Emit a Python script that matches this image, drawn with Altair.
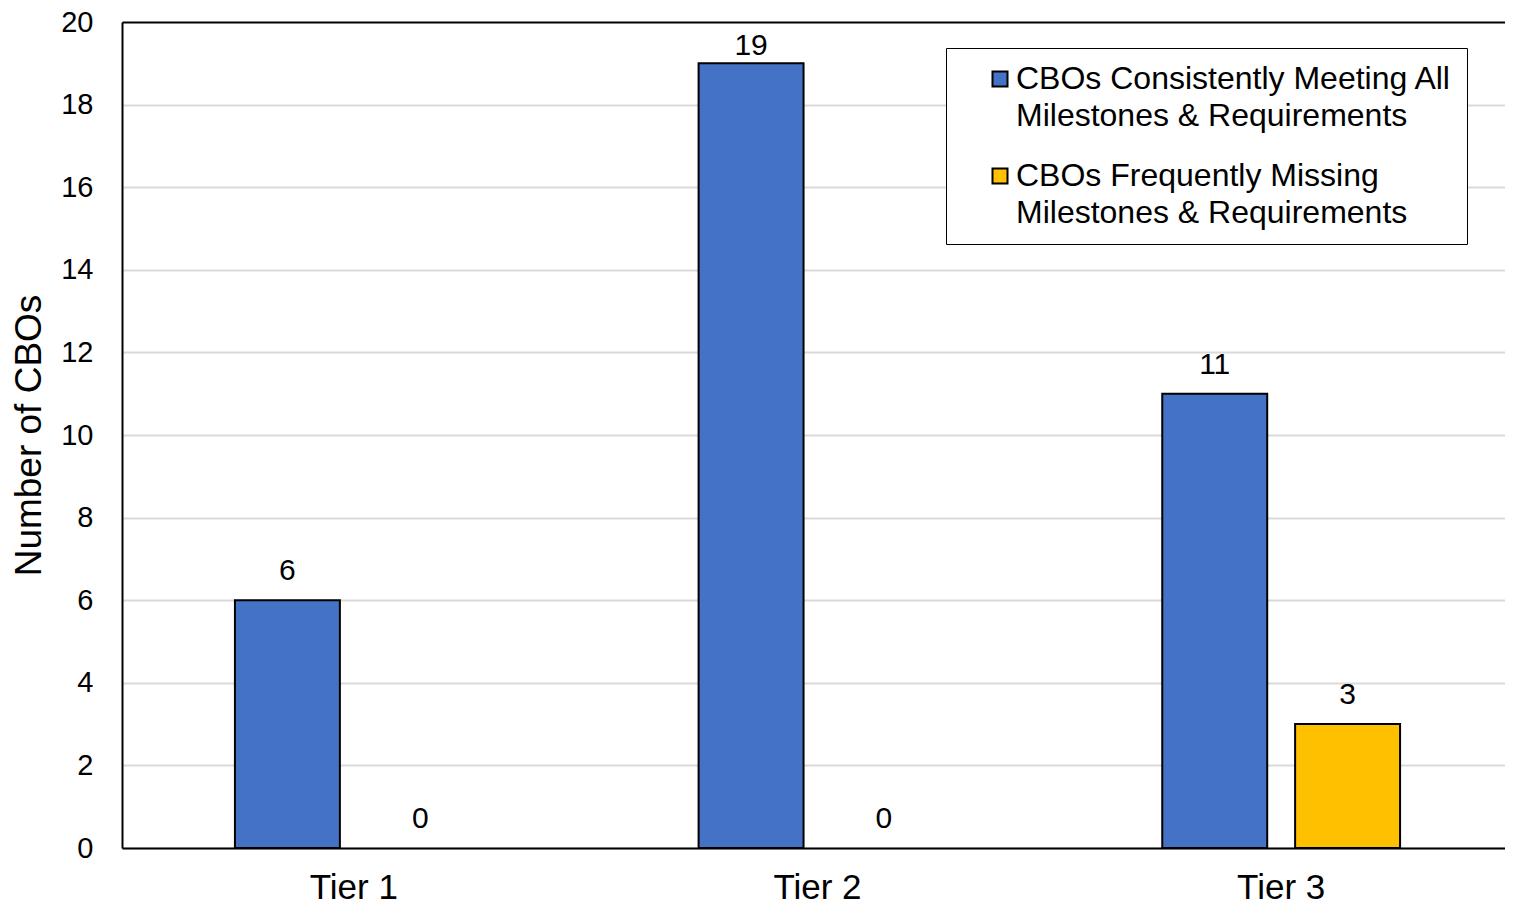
import altair as alt
import pandas as pd

tiers = ["Tier 1", "Tier 2", "Tier 3"]
series = [
    "CBOs Consistently Meeting All|Milestones & Requirements",
    "CBOs Frequently Missing|Milestones & Requirements",
]
meeting = [6, 19, 11]
missing = [0, 0, 3]
colors = ["#4472C4", "#FFC000"]
y_ticks = [0, 2, 4, 6, 8, 10, 12, 14, 16, 18, 20]

rows = []
for t, a, b in zip(tiers, meeting, missing):
    rows.append({"tier": t, "series": series[0], "value": a})
    rows.append({"tier": t, "series": series[1], "value": b})
df = pd.DataFrame(rows)

FONT = "Liberation Sans"

base = alt.Chart(df).encode(
    x=alt.X(
        "tier:N",
        sort=tiers,
        scale=alt.Scale(paddingInner=0, paddingOuter=0),
        axis=alt.Axis(
            title=None, labelAngle=0, labelFontSize=35, labelPadding=22,
            ticks=False, tickSize=0, domainColor="black", domainWidth=2,
            labelColor="black", labelFont=FONT, grid=False,
        ),
    ),
    xOffset=alt.XOffset(
        "series:N", sort=series,
        scale=alt.Scale(paddingInner=0.21, paddingOuter=0.85),
    ),
    y=alt.Y(
        "value:Q",
        scale=alt.Scale(domain=[0, 20]),
        axis=alt.Axis(
            values=y_ticks, title="Number of CBOs", titleFontSize=37,
            titleFontWeight="normal", titleColor="black", titleFont=FONT,
            titlePadding=12, labelFontSize=29, labelFont=FONT,
            labelColor="black", labelPadding=29, ticks=False, tickSize=0,
            domainColor="black", domainWidth=2,
            gridColor={"condition": {"test": "datum.value === 20", "value": "black"},
                       "value": "#D9D9D9"},
            gridWidth=2,
        ),
    ),
)

bars = base.mark_bar(stroke="black", strokeWidth=2).encode(
    color=alt.Color(
        "series:N", sort=series,
        scale=alt.Scale(domain=series, range=colors),
        legend=alt.Legend(
            title=None, orient="none", legendX=824, legendY=26,
            labelExpr="split(datum.label, '|')",
            labelFontSize=32, labelFont=FONT, labelColor="black",
            labelLimit=1000, labelOffset=0, labelBaseline="middle",
            symbolType="square", symbolSize=225,
            symbolStrokeColor="black", symbolStrokeWidth=2,
            symbolOffset=23, padding=15, rowPadding=28,
            fillColor="white", strokeColor="black",
        ),
    ),
    strokeOpacity=alt.condition("datum.value == 0", alt.value(0), alt.value(1)),
)

labels = base.mark_text(
    baseline="alphabetic",
    dy=alt.ExprRef("datum.value > 18 ? -8 : -20"),
    fontSize=30, font=FONT, color="black",
).encode(text="value:Q")

chart = (
    alt.layer(bars, labels)
    .properties(
        width=1497, height=897,
        autosize=alt.AutoSizeParams(type="fit", contains="padding"),
        padding={"left": 2, "top": 0, "right": -8, "bottom": 0},
    )
    .configure_view(stroke=None)
    .configure(background="white", style={"guide-label": {"lineHeight": 37}})
)

chart.save("out.html", embed_options={"renderer": "svg", "actions": False})
